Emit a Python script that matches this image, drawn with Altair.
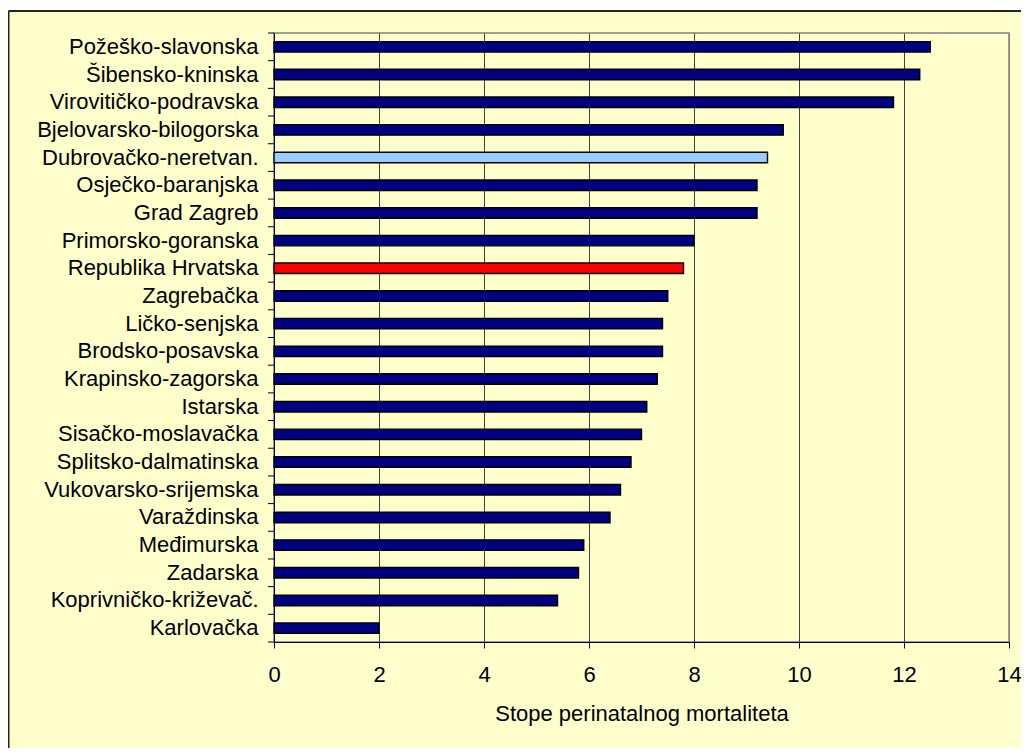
import altair as alt
import pandas as pd

categories = [
    "Požeško-slavonska", "Šibensko-kninska", "Virovitičko-podravska",
    "Bjelovarsko-bilogorska", "Dubrovačko-neretvan.", "Osječko-baranjska",
    "Grad Zagreb", "Primorsko-goranska", "Republika Hrvatska", "Zagrebačka",
    "Ličko-senjska", "Brodsko-posavska", "Krapinsko-zagorska", "Istarska",
    "Sisačko-moslavačka", "Splitsko-dalmatinska", "Vukovarsko-srijemska",
    "Varaždinska", "Međimurska", "Zadarska", "Koprivničko-križevač.", "Karlovačka",
]
values = [12.5, 12.3, 11.8, 9.7, 9.4, 9.2, 9.2, 8.0, 7.8, 7.5, 7.4, 7.4, 7.3,
          7.1, 7.0, 6.8, 6.6, 6.4, 5.9, 5.8, 5.4, 2.0]
groups = ["county"] * len(categories)
groups[categories.index("Dubrovačko-neretvan.")] = "highlight"
groups[categories.index("Republika Hrvatska")] = "national"
x_ticks = [0, 2, 4, 6, 8, 10, 12, 14]
x_title = "Stope perinatalnog mortaliteta"

df = pd.DataFrame({"cat": categories, "value": values, "group": groups})
one = pd.DataFrame({"a": [0]})

W, H = 735, 609
PAD_L, PAD_T = 266, 25
CANVAS_W, CANVAS_H = 1013, 740
FONT = "Liberation Sans"
FS = 22

yscale = alt.Scale(type="band", paddingInner=0, paddingOuter=0)

bars = alt.Chart(df).mark_bar(size=10.5, stroke="black", strokeWidth=1.4).encode(
    y=alt.Y("cat:N", sort=categories, scale=yscale,
            axis=alt.Axis(title=None, ticks=False, labelPadding=16,
                          labelFontSize=FS, labelFont=FONT, labelColor="black",
                          labelLimit=0, domainColor="black", grid=False)),
    x=alt.X("value:Q", scale=alt.Scale(domain=[0, 14], nice=False),
            axis=alt.Axis(values=x_ticks, title=x_title, grid=True,
                          gridColor=alt.condition("datum.value == 14",
                                                  alt.value("#808080"),
                                                  alt.value("#404040")),
                          tickSize=6, tickColor="black", domainColor="black",
                          labelFlush=False,
                          labelFontSize=FS, labelFont=FONT, labelColor="black",
                          labelPadding=16, titleFontSize=FS, titleFont=FONT,
                          titleFontWeight="normal", titleColor="black",
                          titlePadding=18)),
    color=alt.Color("group:N",
                    scale=alt.Scale(domain=["county", "highlight", "national"],
                                    range=["#000080", "#99CCFF", "#FF0000"]),
                    legend=None),
)

yticks = alt.Chart(df).mark_rule(color="black", strokeWidth=1).encode(
    y=alt.Y("cat:N", sort=categories, scale=yscale, bandPosition=0),
    x=alt.value(-6), x2=alt.value(0),
)
ytick_last = alt.Chart(one).mark_rule(color="black", strokeWidth=1).encode(
    y=alt.value(H), x=alt.value(-6), x2=alt.value(0))

white_strip = alt.Chart(one).mark_rect(fill="white", strokeWidth=0).encode(
    x=alt.value(-PAD_L), x2=alt.value(W + 20),
    y=alt.value(-PAD_T), y2=alt.value(-22))
border_top = alt.Chart(one).mark_rule(color="#222222", strokeWidth=2).encode(
    x=alt.value(-PAD_L + 0.5), x2=alt.value(W + 20), y=alt.value(-22))
border_left = alt.Chart(one).mark_rule(color="#222222", strokeWidth=2).encode(
    x=alt.value(-PAD_L + 0.5), y=alt.value(-22), y2=alt.value(H + 200))

chart = alt.layer(bars, yticks, ytick_last, white_strip, border_top, border_left).properties(
    width=W, height=H,
    autosize=alt.AutoSizeParams(type="none"),
    padding={"left": PAD_L, "top": PAD_T,
             "right": CANVAS_W - PAD_L - W, "bottom": CANVAS_H - PAD_T - H},
    background="#FFFFCC",
).configure_view(fill="#FFFFCC", stroke="#808080", strokeWidth=1.5)

chart.save("out.html", embed_options={"renderer": "svg", "actions": False})
